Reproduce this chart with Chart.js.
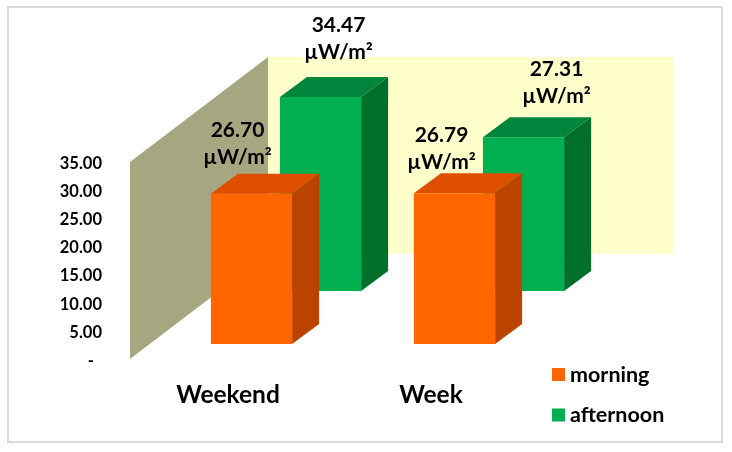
<!DOCTYPE html>
<html><head><meta charset="utf-8">
<style>html,body{margin:0;padding:0;background:#fff}#w{width:732px;height:452px}</style>
<script src="https://cdn.jsdelivr.net/npm/chart.js@4"></script></head>
<body><div id="w"><canvas id="c" width="732" height="452"></canvas></div>
<script>
const categories = ['Weekend', 'Week'];
const morning = [26.70, 26.79];
const afternoon = [34.47, 27.31];
const unitLabel = 'µW/m²';
const yTickLabels = {0:'-  ',5:'5.00',10:'10.00',15:'15.00',20:'20.00',25:'25.00',30:'30.00',35:'35.00'};

const FONT = 'Lato, Carlito, sans-serif';
const WALL = {dx:138, dy:-105, side:'#A6A681', back:'#FFFFCC'};
const BAR_DEPTH = {dx:27, dy:-20};
const styles = [
  {shift:[20,-15], front:'#FF6600', top:'#DE4F00', side:'#BC4200', labels:[[-14,-63],[-13,-58]]},
  {shift:[89,-68], front:'#00B050', top:'#00853C', side:'#006F2C', labels:[[18,-72],[33,-68]]}
];

const poly = (ctx, pts, fill) => {
  ctx.beginPath(); pts.forEach((p,i)=> i?ctx.lineTo(p[0],p[1]):ctx.moveTo(p[0],p[1]));
  ctx.closePath(); ctx.fillStyle = fill; ctx.fill();
};

const scene = {
  id:'scene',
  beforeDraw(chart){
    const {ctx} = chart;
    ctx.save();
    ctx.fillStyle='#fff'; ctx.fillRect(0,0,chart.width,chart.height);
    ctx.strokeStyle='#D9D9D9'; ctx.lineWidth=2; ctx.strokeRect(8,7,714,435);
    ctx.restore();
  },
  beforeDatasetsDraw(chart){
    const {ctx, chartArea:a} = chart;
    const W=WALL;
    ctx.save();
    ctx.fillStyle=W.back;
    ctx.fillRect(a.left+W.dx, a.top+W.dy, a.right-a.left, a.bottom-a.top);
    poly(ctx,[[a.left,a.top],[a.left+W.dx,a.top+W.dy],[a.left+W.dx,a.bottom+W.dy],[a.left,a.bottom]],W.side);
    ctx.restore();
  },
  beforeDatasetDraw(chart,args){
    const {ctx}=chart, st=styles[args.index], D=BAR_DEPTH;
    ctx.save();
    ctx.translate(st.shift[0],st.shift[1]);
    args.meta.data.forEach(b=>{
      const l=b.x-b.width/2, r=b.x+b.width/2, t=b.y, bt=b.base;
      poly(ctx,[[r,t],[r+D.dx,t+D.dy],[r+D.dx,bt+D.dy],[r,bt]],st.side);
      poly(ctx,[[l,t],[l+D.dx,t+D.dy],[r+D.dx,t+D.dy],[r,t]],st.top);
    });
  },
  afterDatasetDraw(chart){ chart.ctx.restore(); },
  afterDatasetsDraw(chart){
    const {ctx}=chart;
    ctx.save();
    ctx.textAlign='center'; ctx.textBaseline='middle'; ctx.fillStyle='#000';
    ctx.font='bold 21px '+FONT;
    chart.data.datasets.forEach((ds,i)=>{
      const st=styles[i];
      chart.getDatasetMeta(i).data.forEach((b,j)=>{
        const x=b.x+st.shift[0]+st.labels[j][0], y=b.y+st.shift[1]+st.labels[j][1];
        ctx.fillText(ds.data[j].toFixed(2),x,y);
        ctx.fillText(unitLabel,x,y+27);
      });
    });
    ctx.textAlign='left';
    ctx.font='bold 21.5px '+FONT;
    chart.data.datasets.forEach((ds,i)=>{
      const y=[375,415.5][i];
      ctx.fillStyle=ds.backgroundColor;
      ctx.fillRect(552,y-7,13,13);
      ctx.fillStyle='#000';
      ctx.fillText(ds.label,570,y);
    });
    ctx.restore();
  }
};

new Chart(document.getElementById('c'),{
  type:'bar',
  data:{labels:categories,datasets:[
    {label:'morning',data:morning,backgroundColor:styles[0].front,clip:false},
    {label:'afternoon',data:afternoon,backgroundColor:styles[1].front,clip:false}
  ]},
  options:{
    responsive:false,animation:false,
    layout:{padding:{left:0,right:196,top:162,bottom:0}},
    datasets:{bar:{grouped:false,barPercentage:0.4,categoryPercentage:1}},
    plugins:{legend:{display:false},title:{display:false},tooltip:{enabled:false}},
    scales:{
      x:{
        grid:{display:false,drawTicks:false},border:{display:false},
        afterFit(s){s.height=93;},
        ticks:{padding:21,labelOffset:-3.5,color:'#000',maxRotation:0,font:{family:FONT,size:24.5,weight:'bold'}}
      },
      y:{
        min:0,max:35,
        grid:{display:false,drawTicks:false},border:{display:false},
        afterFit(s){s.width=130;},
        ticks:{stepSize:5,padding:28,labelOffset:1.5,color:'#000',font:{family:FONT,size:16.5,weight:'bold'},
          callback:v=>yTickLabels[v]}
      }
    }
  },
  plugins:[scene]
});
</script></body></html>
